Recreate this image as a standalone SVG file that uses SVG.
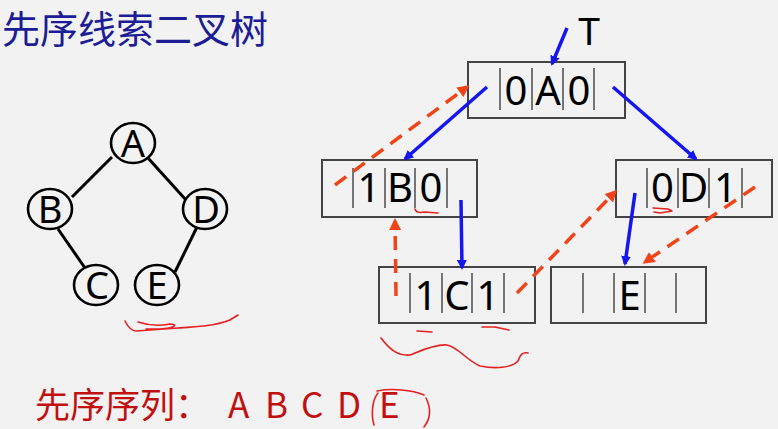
<svg xmlns="http://www.w3.org/2000/svg" width="778" height="429" viewBox="0 0 778 429">
<defs>
<style>
.cjk{font-family:"Noto Sans CJK SC","Noto Sans",sans-serif}
.lt{font-family:"Noto Sans","Noto Sans CJK SC",sans-serif;fill:#000;text-anchor:middle}
.box{fill:none;stroke:#444;stroke-width:2}
.sep{stroke:#555;stroke-width:1.6}
.tn{fill:none;stroke:#000;stroke-width:2.6}
.te{stroke:#000;stroke-width:3}
.blue{stroke:#1515ee;stroke-width:3.5;fill:none}
.red{stroke:#f04418;stroke-width:3.5;fill:none;stroke-dasharray:14 9}
.ink{stroke:#e52020;stroke-width:1.6;fill:none;stroke-linecap:round;stroke-linejoin:round}
</style>
<marker id="ab" markerWidth="10" markerHeight="10" refX="8" refY="5" orient="auto" markerUnits="userSpaceOnUse" viewBox="0 0 10 10"><path d="M0,0 L10,5 L0,10 Z" fill="#1515ee"/></marker>
<marker id="ar" markerWidth="12" markerHeight="12" refX="9" refY="6" orient="auto" markerUnits="userSpaceOnUse" viewBox="0 0 12 12"><path d="M0,0 L12,6 L0,12 Z" fill="#f04418"/></marker>
</defs>
<rect width="778" height="429" fill="#f2f2f2"/>
<text class="cjk" x="2" y="43" font-size="38" fill="#1c1c96">先序线索二叉树</text>

<g id="tree-edges">
<line class="te" x1="112" y1="157" x2="72" y2="197"/>
<line class="te" x1="148" y1="158" x2="186" y2="200"/>
<line class="te" x1="58" y1="229" x2="85" y2="268"/>
<line class="te" x1="197" y1="227" x2="175" y2="272"/>
</g>
<g id="tree-A"><ellipse class="tn" cx="133" cy="143" rx="22" ry="20"/><text class="lt" x="133" y="157" font-size="38">A</text></g>
<g id="tree-B"><ellipse class="tn" cx="50" cy="209" rx="22" ry="20"/><text class="lt" x="50" y="223" font-size="38">B</text></g>
<g id="tree-D"><ellipse class="tn" cx="205" cy="209" rx="22" ry="20"/><text class="lt" x="206" y="223" font-size="38">D</text></g>
<g id="tree-C"><ellipse class="tn" cx="96" cy="285" rx="22" ry="20"/><text class="lt" x="97" y="299" font-size="38">C</text></g>
<g id="tree-E"><ellipse class="tn" cx="157" cy="285" rx="22" ry="20"/><text class="lt" x="157" y="299" font-size="38">E</text></g>
<path class="ink" d="M125,321 C128,327 131,331 136,331 L178,328 C195,327 215,326 230,320 L238,315 M138,322 C150,326 160,326 170,324 C178,324 176,328 160,329 L146,329"/>

<text class="lt" x="589" y="45" font-size="39">T</text>

<g id="node-A">
<rect class="box" x="468" y="62" width="157" height="56"/>
<line class="sep" x1="500" y1="68" x2="500" y2="110"/><line class="sep" x1="532" y1="68" x2="532" y2="110"/><line class="sep" x1="563" y1="68" x2="563" y2="110"/><line class="sep" x1="594" y1="68" x2="594" y2="110"/>
<text class="lt" y="105" font-size="40"><tspan x="516">0</tspan><tspan x="548">A</tspan><tspan x="579">0</tspan></text>
</g>
<g id="node-B">
<rect class="box" x="322" y="160" width="155" height="57"/>
<line class="sep" x1="353" y1="168" x2="353" y2="208"/><line class="sep" x1="385" y1="168" x2="385" y2="208"/><line class="sep" x1="415" y1="168" x2="415" y2="208"/><line class="sep" x1="447" y1="168" x2="447" y2="208"/>
<text class="lt" y="202" font-size="40"><tspan x="369">1</tspan><tspan x="400">B</tspan><tspan x="431">0</tspan></text>
</g>
<g id="node-D">
<rect class="box" x="616" y="160" width="156" height="57"/>
<line class="sep" x1="647" y1="168" x2="647" y2="208"/><line class="sep" x1="678" y1="168" x2="678" y2="208"/><line class="sep" x1="709" y1="168" x2="709" y2="208"/><line class="sep" x1="742" y1="168" x2="742" y2="208"/>
<text class="lt" y="202" font-size="40"><tspan x="662.5">0</tspan><tspan x="693.5">D</tspan><tspan x="725.5">1</tspan></text>
</g>
<g id="node-C">
<rect class="box" x="379" y="267" width="156" height="56"/>
<line class="sep" x1="410" y1="273" x2="410" y2="313"/><line class="sep" x1="442" y1="273" x2="442" y2="313"/><line class="sep" x1="472" y1="273" x2="472" y2="313"/><line class="sep" x1="504" y1="273" x2="504" y2="313"/>
<text class="lt" y="310" font-size="40"><tspan x="426">1</tspan><tspan x="457">C</tspan><tspan x="488">1</tspan></text>
</g>
<g id="node-E">
<rect class="box" x="551" y="267" width="155" height="56"/>
<line class="sep" x1="583" y1="273" x2="583" y2="313"/><line class="sep" x1="614" y1="273" x2="614" y2="313"/><line class="sep" x1="645" y1="273" x2="645" y2="313"/><line class="sep" x1="676" y1="273" x2="676" y2="313"/>
<text class="lt" x="629.5" y="310" font-size="40">E</text>
</g>

<g id="connectors">
<line class="blue" x1="567" y1="28" x2="552" y2="64" marker-end="url(#ab)"/>
<line class="blue" x1="487" y1="87" x2="405" y2="159" marker-end="url(#ab)"/>
<line class="blue" x1="613" y1="87" x2="696" y2="159" marker-end="url(#ab)"/>
<line class="blue" x1="461" y1="200" x2="462" y2="268" marker-end="url(#ab)"/>
<line class="blue" x1="635" y1="193" x2="625" y2="264" marker-end="url(#ab)"/>
<line class="red" x1="335" y1="185" x2="467" y2="87" marker-end="url(#ar)"/>
<line class="red" x1="396" y1="296" x2="395" y2="221" marker-end="url(#ar)"/>
<line class="red" x1="517" y1="293" x2="615" y2="192" marker-end="url(#ar)"/>
<line class="red" x1="755" y1="187" x2="645" y2="262" marker-end="url(#ar)"/>
</g>

<g id="annotations">
<path class="ink" d="M415,209 C416,213 420,213 425,212 L438,213"/>
<path class="ink" d="M653,208 L668,209 L672,211 L660,213 L654,212"/>
<path class="ink" d="M417,331 L432,332"/>
<path class="ink" d="M482,327 L495,327 L509,330"/>
<path class="ink" d="M381,338 C390,350 398,356 410,355 C420,351 435,344 447,345 C458,347 466,360 480,366 C495,369 512,368 518,361 C520,355 522,352 528,353"/>
<path class="ink" d="M378,393 C372,400 371,415 374,425 M377,391 C392,388 412,390 424,395 M426,398 C431,408 431,418 424,427"/>
</g>

<text class="cjk" y="418" font-size="35" fill="#c01010"><tspan x="35">先序序列：</tspan><tspan x="228">A</tspan><tspan x="265">B</tspan><tspan x="301">C</tspan><tspan x="337">D</tspan><tspan x="379">E</tspan></text>
</svg>
